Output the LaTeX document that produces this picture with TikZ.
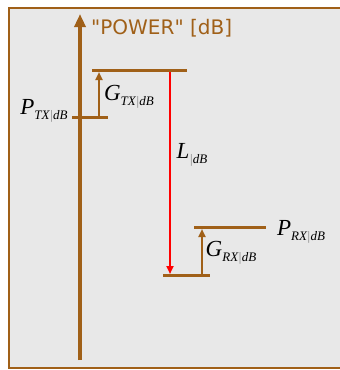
\documentclass[tikz,border=0pt]{standalone}
\usepackage{fontspec}
\setmainfont{Liberation Serif}
\newfontfamily\axisfont{DejaVu Sans}
\usetikzlibrary{arrows.meta}

\definecolor{levelbrown}{RGB}{160,96,24}
\definecolor{panelgray}{RGB}{232,232,232}
\newcommand{\dblabel}[2]{{\fontsize{23}{24}\selectfont\itshape #1}\raisebox{-5pt}{\fontsize{13}{13}\selectfont\itshape #2}}
\newcommand{\vbar}{{\color{gray}|}}

\begin{document}
\begin{tikzpicture}[
  x=1pt, y=-1pt,
  level/.style={levelbrown, line width=3pt},
  gain/.style={-{Triangle[length=8pt,width=7pt]}, levelbrown, line width=2pt},
  loss/.style={-{Triangle[length=8pt,width=7pt]}, red, line width=2pt},
  lab/.style={inner sep=0pt, anchor=center},
]
\useasboundingbox (0,0) rectangle (340,370);
\fill[white] (0,0) rectangle (340,370);
\begin{scope}
  \clip (0,0) rectangle (340,370);
  \draw[levelbrown, line width=2.5pt, fill=panelgray] (9,8) rectangle (352,368);
\end{scope}

% power axis
\coordinate (axisbot) at (80,360);
\coordinate (axistop) at (80,14);
\draw[levelbrown, line width=3.5pt, -{Triangle[length=13pt,width=11pt]}] (axisbot) -- (axistop);
\node[anchor=west, inner sep=0pt, text=levelbrown, font=\axisfont\fontsize{20}{22}\selectfont] (power) at (91,28) {"POWER" [dB]};

% levels
\coordinate (txL) at (72,117);
\coordinate (txR) at (108,117);
\coordinate (topL) at (92,70);
\coordinate (topR) at (187,70);
\coordinate (botL) at (163,275);
\coordinate (botR) at (210,275);
\coordinate (rxL) at (194,227);
\coordinate (rxR) at (266,227);

% gains and loss
\coordinate (gtxA) at (99,117);
\coordinate (gtxB) at (99,72);
\coordinate (lossA) at (170,70);
\coordinate (lossB) at (170,274);
\coordinate (grxA) at (202,275);
\coordinate (grxB) at (202,229);
\draw[gain] (gtxA) -- (gtxB);
\draw[loss] (lossA) -- (lossB);
\draw[gain] (grxA) -- (grxB);

\draw[level] (txL) -- (txR);
\draw[level] (topL) -- (topR);
\draw[level] (botL) -- (botR);
\draw[level] (rxL) -- (rxR);

% labels
\node[lab] (ptx) at (44,111) {\dblabel{P}{TX\vbar dB}};
\node[lab] (gtx) at (129,97) {\dblabel{G}{TX\vbar dB}};
\node[lab] (ldb) at (192,155) {\dblabel{L}{\vbar dB}};
\node[lab] (grx) at (231,253) {\dblabel{G}{RX\vbar dB}};
\node[lab] (prx) at (301,232) {\dblabel{P}{RX\vbar dB}};
\end{tikzpicture}
\end{document}
